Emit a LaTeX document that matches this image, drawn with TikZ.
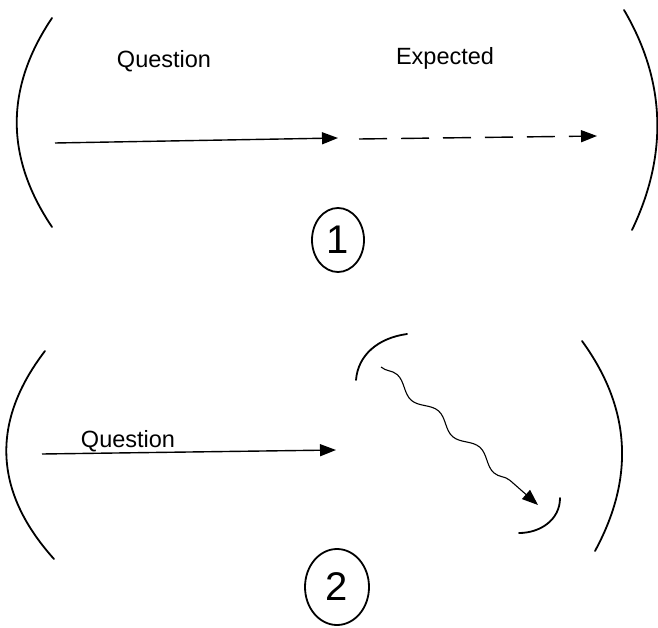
\documentclass[tikz,border=0pt]{standalone}
\usepackage{fontspec}
\setmainfont{Liberation Sans}
\usetikzlibrary{arrows.meta,shapes.geometric,decorations.pathmorphing}
\tikzset{
  paren/.style={line width=1.8pt,line cap=round},
  ray/.style={line width=1.4pt,-{Triangle[length=16pt,width=12pt]}},
  word/.style={inner sep=0pt,font=\fontsize{23.5}{27}\selectfont},
  tag/.style={draw,ellipse,line width=1.8pt,inner sep=0pt,font=\fontsize{40}{40}\selectfont}
}
\begin{document}
\begin{tikzpicture}[x=1pt,y=-1pt]
\useasboundingbox (0,0) rectangle (658,628);
\draw[paren] (52,18) .. controls (5,88) and (5,157) .. (52,227);
\draw[paren] (624,10) .. controls (667,83) and (667,157) .. (632,230);
\node[word] (qtop) at (164,61) {Question};
\node[word] (expect) at (445,58) {Expected};
\coordinate (s1) at (55,143);
\coordinate (e1) at (338,138);
\coordinate (s2) at (359,139);
\coordinate (e2) at (597,136);
\draw[ray] (s1) -- (e1);
\draw[ray,dash pattern=on 28pt off 14pt] (s2) -- (e2);
\node[tag,minimum width=52pt,minimum height=64pt] (one) at (338,240) {1};
\draw[paren] (45,351) .. controls (-8,420) and (-8,490) .. (54,559);
\draw[paren] (582,341) .. controls (633,411) and (633,481) .. (595,551);
\node[word] (qbottom) at (128,441) {Question};
\coordinate (s3) at (42,454);
\coordinate (e3) at (336,450);
\draw[ray] (s3) -- (e3);
\draw[paren] (356,380) .. controls (358,355) and (378,338) .. (407,334);
\coordinate (w1) at (381,367);
\coordinate (w2) at (538,505);
\draw[ray,line width=1.1pt,decorate,decoration={snake,amplitude=5pt,segment length=55pt,post length=14pt}] (w1) -- (w2);
\draw[paren] (560,498) .. controls (560,520) and (540,533) .. (519,533);
\node[tag,minimum width=64pt,minimum height=76pt] (two) at (337,587) {2};
\end{tikzpicture}
\end{document}
